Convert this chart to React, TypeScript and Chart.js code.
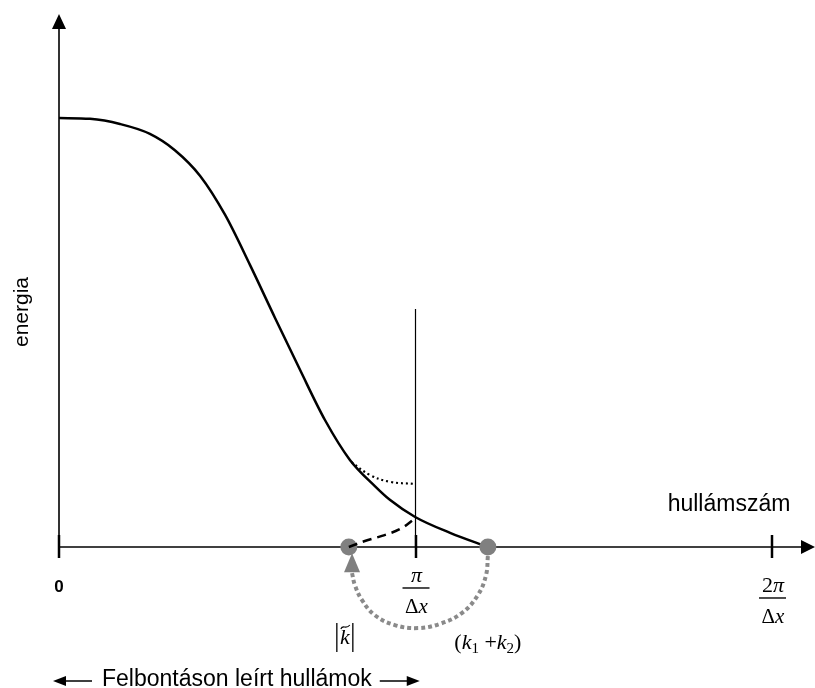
import React, { useEffect, useRef } from 'react';
import { Chart, registerables } from 'chart.js';

Chart.register(...registerables);

// Wavenumber in units of π/Δx, energy normalised to the low-wavenumber plateau.
const spectrumK = [0, 0.087, 0.171, 0.255, 0.325, 0.396, 0.466, 0.536, 0.606, 0.676, 0.746, 0.816, 0.886, 0.928, 0.999, 1.097, 1.203];
const spectrumE = [1.0, 0.998, 0.986, 0.963, 0.925, 0.865, 0.774, 0.657, 0.534, 0.413, 0.296, 0.203, 0.142, 0.11, 0.07, 0.033, 0.0];

// Energy piling up just below the cut-off (dotted branch).
const pileUpK = [0.82, 0.872, 0.928, 0.999];
const pileUpE = [0.198, 0.168, 0.152, 0.147];

// Aliased energy folded back onto |k~| (dashed branch).
const foldedK = [0.813, 0.858, 0.906, 0.957, 0.999];
const foldedE = [0, 0.014, 0.026, 0.042, 0.067];

// Marked wavenumbers: |k~| and k1 + k2.
const markerK = [0.813, 1.203];
const markerE = [0, 0];

// Folding path from k1 + k2 back to |k~|.
const foldArcK = [1.203, 1.198, 1.175, 1.13, 1.069, 1.007, 0.942, 0.886, 0.85, 0.83, 0.822];
const foldArcE = [-0.021, -0.065, -0.112, -0.154, -0.179, -0.189, -0.182, -0.159, -0.124, -0.089, -0.061];

// Resolution cut-off at π/Δx.
const cutoffK = [1, 1];
const cutoffE = [0.555, 0];

const tickValues = [0, 1, 2];
const tickNumerators = ['0', 'π', '2π'];
const tickDenominators = ['', 'Δx', 'Δx'];

const xTitle = 'hullámszám';
const yTitle = 'energia';
const bandCaption = 'Felbontáson leírt hullámok';

const pts = (xs: number[], ys: number[]) => xs.map((x, i) => ({ x, y: ys[i] }));

const SANS = '"Liberation Sans", Arial, sans-serif';
const SERIF = '"Liberation Serif", "Times New Roman", serif';

type Run = { text: string; font: string; dy?: number };

function drawRuns(ctx: CanvasRenderingContext2D, runs: Run[], cx: number, baseline: number) {
  let total = 0;
  for (const r of runs) {
    ctx.font = r.font;
    total += ctx.measureText(r.text).width;
  }
  let x = cx - total / 2;
  ctx.textAlign = 'left';
  ctx.textBaseline = 'alphabetic';
  for (const r of runs) {
    ctx.font = r.font;
    ctx.fillText(r.text, x, baseline + (r.dy || 0));
    x += ctx.measureText(r.text).width;
  }
}

function mathRuns(s: string, size: number): Run[] {
  return Array.from(s).map((ch) => ({
    text: ch,
    font: /[0-9Δ()+ ]/.test(ch) ? `${size}px ${SERIF}` : `italic ${size}px ${SERIF}`,
  }));
}

function triangle(ctx: CanvasRenderingContext2D, a: number[], b: number[], c: number[]) {
  ctx.beginPath();
  ctx.moveTo(a[0], a[1]);
  ctx.lineTo(b[0], b[1]);
  ctx.lineTo(c[0], c[1]);
  ctx.closePath();
  ctx.fill();
}

const diagramPlugin = {
  id: 'diagramDecor',
  beforeDatasetsDraw(chart: any) {
    const ctx: CanvasRenderingContext2D = chart.ctx;
    const xs = chart.scales.x;
    const ys = chart.scales.y;
    const x0 = xs.getPixelForValue(0);
    const y0 = ys.getPixelForValue(0);
    ctx.save();
    ctx.strokeStyle = '#000';
    ctx.fillStyle = '#000';
    ctx.lineWidth = 1.6;
    // energy axis
    ctx.beginPath();
    ctx.moveTo(x0, y0);
    ctx.lineTo(x0, 28);
    ctx.stroke();
    triangle(ctx, [x0, 14], [x0 - 7, 29], [x0 + 7, 29]);
    // wavenumber axis
    ctx.beginPath();
    ctx.moveTo(x0, y0);
    ctx.lineTo(803, y0);
    ctx.stroke();
    triangle(ctx, [815, y0], [801, y0 - 7], [801, y0 + 7]);
    // ticks
    ctx.lineWidth = 2.5;
    for (const v of tickValues) {
      const px = Math.round(xs.getPixelForValue(v));
      ctx.beginPath();
      ctx.moveTo(px, y0 - 12);
      ctx.lineTo(px, y0 + 11);
      ctx.stroke();
    }
    ctx.restore();
  },
  afterDatasetsDraw(chart: any) {
    const ctx: CanvasRenderingContext2D = chart.ctx;
    const xs = chart.scales.x;
    const ys = chart.scales.y;
    const y0 = ys.getPixelForValue(0);
    ctx.save();

    // arrowhead at the end of the folding path
    const n = foldArcK.length - 1;
    const ax = xs.getPixelForValue(foldArcK[n]);
    const ay = ys.getPixelForValue(foldArcE[n]);
    ctx.fillStyle = '#7f7f7f';
    triangle(ctx, [ax, ay - 20], [ax - 8, ay - 1], [ax + 8, ay - 1]);

    // tick labels
    ctx.fillStyle = '#000';
    ctx.strokeStyle = '#000';
    const barOffsets = [0, 41, 51];
    tickValues.forEach((v, i) => {
      const px = xs.getPixelForValue(v);
      if (!tickDenominators[i]) {
        ctx.font = `bold 17px ${SANS}`;
        ctx.textAlign = 'center';
        ctx.textBaseline = 'alphabetic';
        ctx.fillText(tickNumerators[i], px, y0 + 45);
        return;
      }
      const barY = y0 + barOffsets[i];
      drawRuns(ctx, mathRuns(tickNumerators[i], 22), px + 1, barY - 6);
      ctx.lineWidth = 1.4;
      ctx.beginPath();
      ctx.moveTo(px - 13, barY);
      ctx.lineTo(px + 14, barY);
      ctx.stroke();
      drawRuns(ctx, mathRuns(tickDenominators[i], 21), px + 1, barY + 25);
    });

    // |k~| label
    const kx = xs.getPixelForValue(markerK[0]) - 4;
    ctx.lineWidth = 1.3;
    ctx.beginPath();
    ctx.moveTo(kx - 8, 623);
    ctx.lineTo(kx - 8, 652);
    ctx.moveTo(kx + 8, 623);
    ctx.lineTo(kx + 8, 652);
    ctx.stroke();
    drawRuns(ctx, [{ text: 'k', font: `italic 22px ${SERIF}` }], kx, 644);
    ctx.lineWidth = 1.1;
    ctx.beginPath();
    ctx.moveTo(kx - 4, 629);
    ctx.bezierCurveTo(kx - 2, 624, kx + 1, 630, kx + 5, 625);
    ctx.stroke();

    // (k1 + k2) label
    const sx = xs.getPixelForValue(markerK[1]);
    drawRuns(
      ctx,
      [
        { text: '(', font: `22px ${SERIF}` },
        { text: 'k', font: `italic 22px ${SERIF}` },
        { text: '1', font: `15px ${SERIF}`, dy: 4 },
        { text: ' +', font: `22px ${SERIF}` },
        { text: 'k', font: `italic 22px ${SERIF}` },
        { text: '2', font: `15px ${SERIF}`, dy: 4 },
        { text: ')', font: `22px ${SERIF}` },
      ],
      sx,
      649
    );

    // axis titles
    ctx.fillStyle = '#000';
    ctx.font = `23px ${SANS}`;
    ctx.textAlign = 'center';
    ctx.textBaseline = 'alphabetic';
    ctx.fillText(xTitle, 729, 511);

    ctx.save();
    ctx.translate(28, 312);
    ctx.rotate(-Math.PI / 2);
    ctx.font = `21px ${SANS}`;
    ctx.textAlign = 'center';
    ctx.textBaseline = 'alphabetic';
    ctx.fillText(yTitle, 0, 0);
    ctx.restore();

    // resolved-band caption with arrows
    ctx.font = `23px ${SANS}`;
    ctx.textAlign = 'left';
    ctx.fillText(bandCaption, 102, 686);
    const capW = ctx.measureText(bandCaption).width;
    const ly = 681;
    ctx.lineWidth = 1.5;
    ctx.beginPath();
    ctx.moveTo(64, ly);
    ctx.lineTo(92, ly);
    const rStart = 102 + capW + 8;
    ctx.moveTo(rStart, ly);
    ctx.lineTo(rStart + 28, ly);
    ctx.stroke();
    triangle(ctx, [53, ly], [66, ly - 5], [66, ly + 5]);
    triangle(ctx, [rStart + 40, ly], [rStart + 27, ly - 5], [rStart + 27, ly + 5]);

    ctx.restore();
  },
};

export default function App() {
  const ref = useRef<HTMLCanvasElement | null>(null);

  useEffect(() => {
    if (!ref.current) return;
    const chart = new Chart(ref.current, {
      type: 'scatter',
      data: {
        datasets: [
          {
            label: 'folded',
            data: pts(foldedK, foldedE),
            showLine: true,
            borderColor: '#000',
            borderWidth: 2.5,
            borderDash: [9, 6],
            pointRadius: 0,
            tension: 0.4,
          },
          {
            label: 'markers',
            data: pts(markerK, markerE),
            showLine: false,
            pointRadius: 8.5,
            pointBackgroundColor: '#808080',
            pointBorderWidth: 0,
          },
          {
            label: 'spectrum',
            data: pts(spectrumK, spectrumE),
            showLine: true,
            borderColor: '#000',
            borderWidth: 2.5,
            pointRadius: 0,
            cubicInterpolationMode: 'monotone',
          },
          {
            label: 'pile-up',
            data: pts(pileUpK, pileUpE),
            showLine: true,
            borderColor: '#000',
            borderWidth: 2.2,
            borderDash: [2, 3],
            pointRadius: 0,
            tension: 0.4,
          },
          {
            label: 'fold path',
            data: pts(foldArcK, foldArcE),
            showLine: true,
            borderColor: '#8a8a8a',
            borderWidth: 4,
            borderDash: [4, 3],
            pointRadius: 0,
            tension: 0.4,
          },
          {
            label: 'cut-off',
            data: pts(cutoffK, cutoffE),
            showLine: true,
            borderColor: '#000',
            borderWidth: 1.2,
            pointRadius: 0,
          },
        ],
      },
      options: {
        animation: false,
        responsive: false,
        devicePixelRatio: 1,
        layout: { padding: 0, autoPadding: false },
        plugins: { legend: { display: false }, tooltip: { enabled: false } },
        events: [],
        scales: {
          x: { type: 'linear', min: -0.1655, max: 2.1206, display: false },
          y: { type: 'linear', min: -0.3287, max: 1.2751, display: false },
        },
      },
      plugins: [diagramPlugin],
    } as any);
    return () => chart.destroy();
  }, []);

  return (
    <canvas
      ref={ref}
      width={815}
      height={688}
      style={{ position: 'absolute', left: 0, top: 0, width: 815, height: 688, background: '#fff' }}
    />
  );
}
